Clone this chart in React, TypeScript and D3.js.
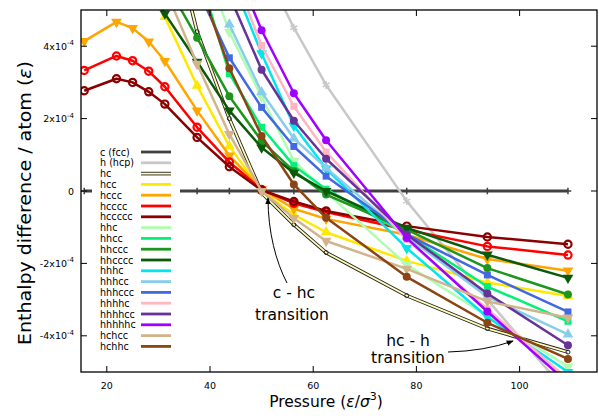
import React from 'react';
import * as d3 from 'd3';

const pressures = [15.625, 21.875, 25, 28.125, 31.25, 37.5, 43.75, 50, 56.25, 62.5, 78.125, 93.75, 109.375];

// enthalpy differences in units of 1e-4 epsilon (null = not computed / far off chart)
const c_fcc = [0, 0, 0, 0, 0, 0, 0, 0, 0, 0, 0, 0, 0];
const h_hcp = [null, null, null, null, null, null, null, 6.3, 4.51, 2.93, -0.28, -3.0, -5.6];
const hc = [null, null, null, null, 8.0, 4.4, 2.0, -0.05, -0.93, -1.7, -2.89, -3.8, -4.45];
const hcc = [null, null, null, 5.6, 4.81, 2.91, 1.24, 0.0, -0.65, -1.14, -1.93, -2.53, -2.9];
const hccc = [4.14, 4.67, 4.5, 4.13, 3.59, 2.22, 0.98, 0.05, -0.49, -0.77, -1.21, -1.88, -2.2];
const hcccc = [3.33, 3.73, 3.6, 3.31, 2.88, 1.76, 0.8, 0.04, -0.34, -0.58, -1.07, -1.53, -1.77];
const hccccc = [2.77, 3.1, 3.0, 2.74, 2.4, 1.48, 0.67, 0.02, -0.29, -0.55, -0.97, -1.27, -1.47];
const hhc = [null, null, null, null, null, 6.9, 4.39, 2.6, 0.83, -0.03, -2.04, -3.45, -4.85];
const hhcc = [null, null, null, null, null, 6.2, 3.24, 1.76, 0.7, 0.05, -1.2, -2.64, -3.6];
const hhccc = [null, null, null, null, 5.8, 4.23, 2.62, 1.38, 0.55, -0.1, -1.07, -2.13, -2.86];
const hhcccc = [null, null, null, 5.6, 4.9, 3.57, 2.22, 1.2, 0.5, 0.0, -1.02, -1.76, -2.4];
const hhhc = [null, null, null, null, null, null, 6.0, 3.8, 1.8, 0.62, -1.58, -3.48, -5.0];
const hhhcc = [null, null, null, null, null, null, 4.6, 2.73, 1.45, 0.64, -1.26, -2.92, -3.96];
const hhhccc = [null, null, null, null, null, 5.6, 3.68, 2.31, 1.23, 0.41, -1.2, -2.32, -3.34];
const hhhhc = [null, null, null, null, null, null, 6.3, 4.02, 2.34, 1.08, -1.35, -3.26, -5.2];
const hhhhcc = [null, null, null, null, null, null, 5.4, 3.35, 1.94, 0.89, -1.2, -2.83, -4.26];
const hhhhhc = [null, null, null, null, null, null, 6.6, 4.44, 2.7, 1.4, -1.3, -3.33, -5.3];
const hchcc = [null, null, null, null, 5.6, 3.51, 1.57, 0.0, -0.75, -1.38, -2.15, -3.05, -3.5];
const hchhc = [null, null, null, null, null, 5.9, 3.39, 1.52, 0.18, -0.74, -2.37, -3.64, -4.64];

const seriesNames = ['c (fcc)', 'h (hcp)', 'hc', 'hcc', 'hccc', 'hcccc', 'hccccc', 'hhc', 'hhcc', 'hhccc', 'hhcccc',
  'hhhc', 'hhhcc', 'hhhccc', 'hhhhc', 'hhhhcc', 'hhhhhc', 'hchcc', 'hchhc'];
const seriesValues = [c_fcc, h_hcp, hc, hcc, hccc, hcccc, hccccc, hhc, hhcc, hhccc, hhcccc,
  hhhc, hhhcc, hhhccc, hhhhc, hhhhcc, hhhhhc, hchcc, hchhc];
const seriesColors = ['#404040', '#c8c8c8', '#fffcb8', '#ffe800', '#ffa500', '#ff0000', '#8b0000', '#b2fbb2', '#00f07a',
  '#1e961e', '#0a5a0a', '#00e5ee', '#87ceeb', '#4169e1', '#ffb6c1', '#663399', '#a000ff', '#d2b48c', '#8b4513'];
const seriesMarkers = ['plus', 'asterisk', 'smallcircle', 'triUp', 'triDown', 'opencircle', 'opencircle', 'triDown', 'square',
  'circle', 'triDown', 'triDown', 'triUp', 'square', 'square', 'circle', 'circle', 'triDown', 'circle'];

const xTicks = [20, 40, 60, 80, 100];
const yTicks = [-4, -2, 0, 2, 4];

const FONT = 'DejaVu Sans, Verdana, sans-serif';

function markerPath(kind: string): string {
  const s = d3.symbol();
  switch (kind) {
    case 'square': return s.type(d3.symbolSquare).size(48)() as string;
    case 'triUp': return s.type(d3.symbolTriangle).size(50)() as string;
    case 'triDown': return s.type(d3.symbolTriangle).size(50)() as string;
    case 'asterisk': return s.type(d3.symbolAsterisk).size(44)() as string;
    case 'plus': return s.type(d3.symbolPlus).size(16)() as string;
    case 'smallcircle': return s.type(d3.symbolCircle).size(14)() as string;
    default: return s.type(d3.symbolCircle).size(50)() as string;
  }
}

export default function App() {
  const W = 599, H = 420;
  const left = 81, right = 597, top = 10, bottom = 372;
  const x = d3.scaleLinear().domain([15, 115]).range([left, right]);
  const y = d3.scaleLinear().domain([-5, 5]).range([bottom, top]);
  const line = d3.line<[number, number | null]>()
    .defined(d => d[1] !== null)
    .x(d => x(d[0]))
    .y(d => y(d[1] as number));

  const legX = 100, legY0 = 152, legStep = 10.8;

  return (
    <svg width={W} height={H} style={{ position: 'absolute', left: 0, top: 0, background: '#fff' }}
      fontFamily={FONT}>
      <defs>
        <clipPath id="plotclip"><rect x={left} y={top} width={right - left} height={bottom - top} /></clipPath>
        <marker id="arrow" viewBox="0 0 10 10" refX="9" refY="5" markerWidth="7" markerHeight="7" orient="auto-start-reverse" markerUnits="userSpaceOnUse">
          <path d="M0,1 L10,5 L0,9 Z" fill="#000" />
        </marker>
      </defs>
      <rect x={0} y={0} width={W} height={H} fill="#fff" />
      <g clipPath="url(#plotclip)">
        {seriesValues.map((vals, i) => {
          const pts = pressures.map((p, k) => [p, vals[k]] as [number, number | null]);
          const d = line(pts) as string;
          const col = seriesColors[i];
          const kind = seriesMarkers[i];
          const mp = markerPath(kind);
          return (
            <g key={seriesNames[i]}>
              {seriesNames[i] === 'hc' ? (
                <>
                  <path d={d} fill="none" stroke="#222" strokeWidth={3.6} strokeLinejoin="round" />
                  <path d={d} fill="none" stroke={col} strokeWidth={1.8} strokeLinejoin="round" />
                </>
              ) : (
                <path d={d} fill="none" stroke={col} strokeWidth={i === 0 ? 2.8 : 2.5} strokeLinejoin="round" />
              )}
              {pts.filter(p => p[1] !== null).map((p, k) => {
                const tx = x(p[0]), ty = y(p[1] as number);
                const rot = kind === 'triDown' ? ` rotate(180)` : '';
                if (kind === 'asterisk' || kind === 'plus') {
                  return <path key={k} d={mp} transform={`translate(${tx},${ty})`} fill={i === 0 ? '#333' : col} stroke={col} strokeWidth={1.5} />;
                }
                if (kind === 'opencircle') {
                  return <circle key={k} cx={tx} cy={ty} r={3.6} fill="none" stroke={col} strokeWidth={2.2} />;
                }
                if (kind === 'smallcircle') {
                  return <circle key={k} cx={tx} cy={ty} r={2} fill="none" stroke="#222" strokeWidth={1} />;
                }
                return <path key={k} d={mp} transform={`translate(${tx},${ty})${rot}`} fill={col} />;
              })}
            </g>
          );
        })}
      </g>

      {/* legend */}
      <rect x={92} y={144} width={88} height={208} fill="#fff" />
      {seriesNames.map((name, i) => {
        const ly = legY0 + i * legStep;
        return (
          <g key={'leg' + name}>
            <text x={legX} y={ly + 3.5} fontSize={9.6} fill="#000">{name}</text>
            {name === 'hc' ? (
              <>
                <line x1={141} x2={171} y1={ly} y2={ly} stroke="#222" strokeWidth={3.6} />
                <line x1={141} x2={171} y1={ly} y2={ly} stroke={seriesColors[i]} strokeWidth={1.8} />
              </>
            ) : (
              <line x1={141} x2={171} y1={ly} y2={ly} stroke={seriesColors[i]} strokeWidth={2.8} />
            )}
          </g>
        );
      })}

      {/* frame and ticks */}
      <rect x={left} y={top} width={right - left} height={bottom - top} fill="none" stroke="#000" strokeWidth={1.3} />
      {xTicks.map(t => (
        <g key={'xt' + t}>
          <line x1={x(t)} x2={x(t)} y1={bottom} y2={bottom - 6} stroke="#000" strokeWidth={1} />
          <line x1={x(t)} x2={x(t)} y1={top} y2={top + 6} stroke="#000" strokeWidth={1} />
          <text x={x(t)} y={bottom + 17} fontSize={9.5} textAnchor="middle">{t}</text>
        </g>
      ))}
      {yTicks.map(t => (
        <g key={'yt' + t}>
          <line x1={left} x2={left + 6} y1={y(t)} y2={y(t)} stroke="#000" strokeWidth={1} />
          <line x1={right} x2={right - 6} y1={y(t)} y2={y(t)} stroke="#000" strokeWidth={1} />
          {t === 0 ? (
            <text x={74} y={y(t) + 3.5} fontSize={9.5} textAnchor="end">0</text>
          ) : (
            <text x={74} y={y(t) + 3.5} fontSize={9.5} textAnchor="end">
              {`${t}x10`}<tspan fontSize={7} dy={-4.5}>-4</tspan>
            </text>
          )}
        </g>
      ))}

      {/* axis titles */}
      <text x={326} y={407} fontSize={15.5} textAnchor="middle">
        Pressure (<tspan fontStyle="italic">ε</tspan>/<tspan fontStyle="italic">σ</tspan><tspan fontSize={11} dy={-7}>3</tspan><tspan dy={7}>)</tspan>
      </text>
      <text transform="translate(31,203) rotate(-90)" fontSize={17} textAnchor="middle" textLength={284} lengthAdjust="spacingAndGlyphs">
        Enthalpy difference / atom (<tspan fontStyle="italic">ε</tspan>)
      </text>

      {/* annotations */}
      <text x={294} y={298} fontSize={15.5} textAnchor="middle">c - hc</text>
      <text x={292} y={320} fontSize={15.5} textAnchor="middle">transition</text>
      <path d="M287,283 C276,262 268,232 268,198" fill="none" stroke="#000" strokeWidth={1} markerEnd="url(#arrow)" />
      <text x={408} y={346} fontSize={15.5} textAnchor="middle">hc - h</text>
      <text x={408} y={363} fontSize={15.5} textAnchor="middle">transition</text>
      <path d="M448,352 Q485,351 513,341" fill="none" stroke="#000" strokeWidth={1} markerEnd="url(#arrow)" />
    </svg>
  );
}
